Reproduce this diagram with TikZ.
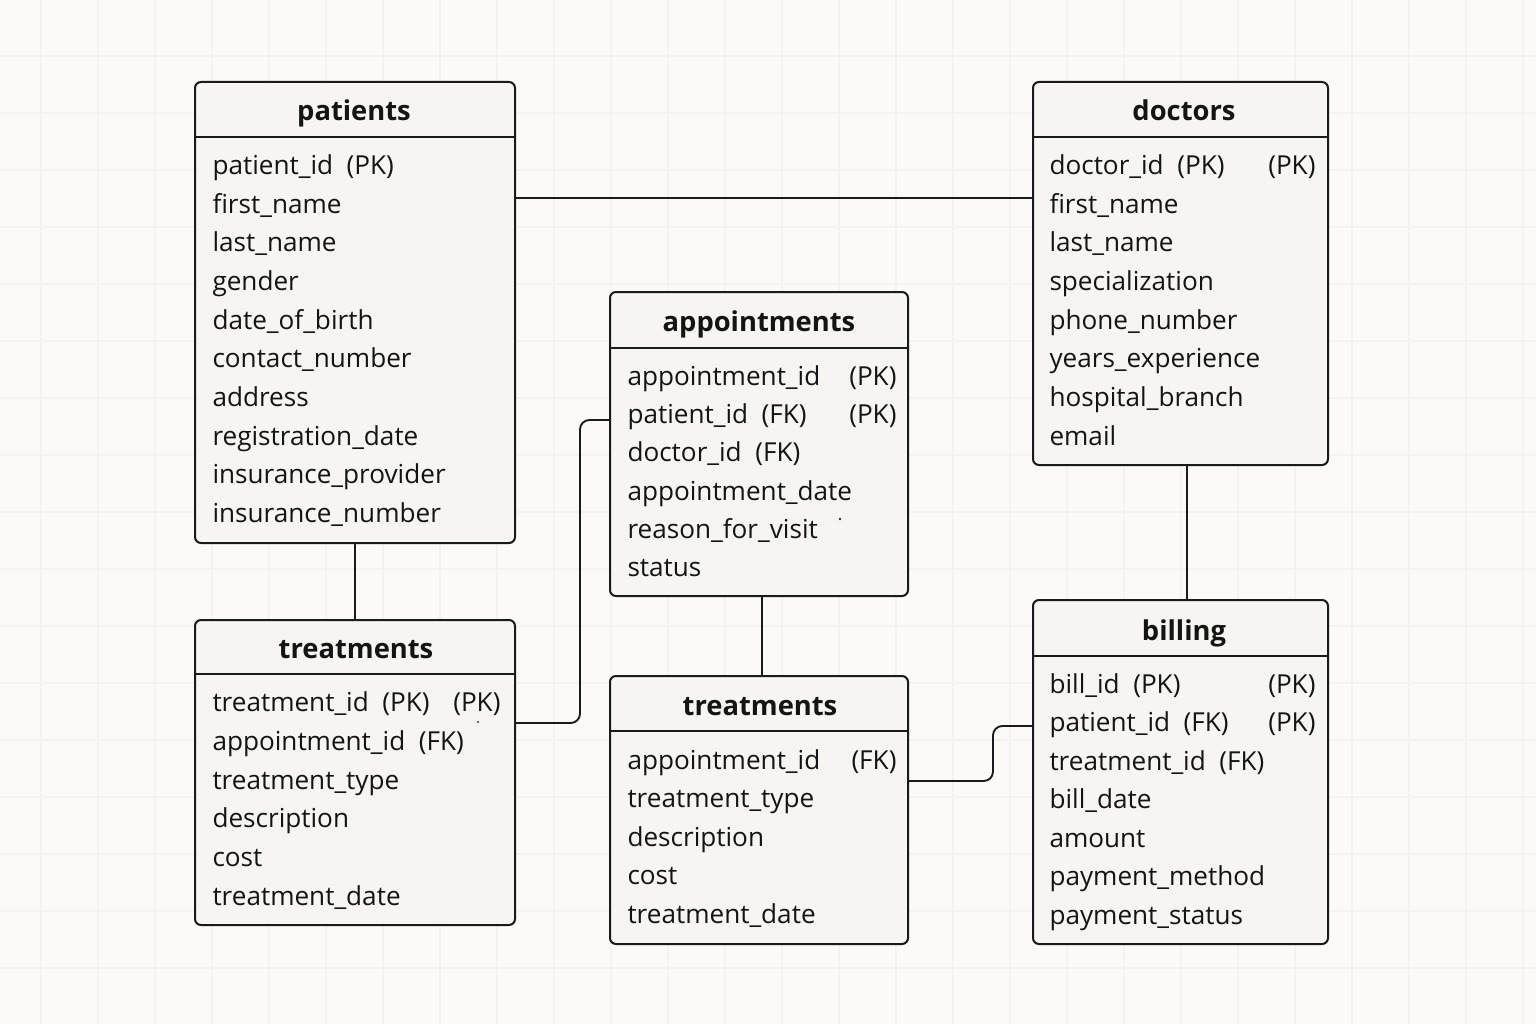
\documentclass[tikz,border=0pt]{standalone}
\usepackage{fontspec}
\setmainfont{Open Sans}

\tikzset{every picture/.style={line width=0.75pt}}
\tikzset{
  entity/.style={draw={rgb, 255:red, 26; green, 26; blue, 26 }, line width=1.5pt, rounded corners=4.5pt, fill={rgb, 255:red, 246; green, 245; blue, 241 }, inner sep=0pt},
  divider/.style={draw={rgb, 255:red, 26; green, 26; blue, 26 }, line width=1.4pt},
  title/.style={anchor=base, inner sep=0pt, text={rgb, 255:red, 20; green, 20; blue, 20 }, font=\bfseries\fontsize{20.5}{24}\selectfont},
  field/.style={anchor=base west, inner sep=0pt, text={rgb, 255:red, 20; green, 20; blue, 20 }, font=\fontsize{19.6}{23}\selectfont},
  keytag/.style={field, anchor=base east},
  link/.style={draw={rgb, 255:red, 26; green, 26; blue, 26 }, line width=1.4pt, rounded corners=7pt},
  gridline/.style={draw={rgb, 255:red, 245; green, 243; blue, 239 }, line width=0.8pt},
}

\begin{document}
\begin{tikzpicture}[x=0.75pt,y=0.75pt,yscale=-1,xscale=1]
	\useasboundingbox (0,0) rectangle (1536,1024);

	%Shape: Rectangle [background]
	\fill [fill={rgb, 255:red, 251; green, 250; blue, 246 }] (0,0) rectangle (1536,1024);
	%Grid
	\draw [gridline, step=57, shift={(41,56)}] (-41,-56) grid (1495,968);

	%Coordinates for the links
	\coordinate (pdLink) at (0,198);
	\coordinate (dbLink) at (1187,0);
	\coordinate (atLink) at (762,0);
	\coordinate (taBendLow) at (580,723);
	\coordinate (taBendHigh) at (580,420);
	\coordinate (tbBendLow) at (993,781);
	\coordinate (tbBendHigh) at (993,726);

	%Shape: Rectangle [patients]
	\node [entity, minimum width=240pt, minimum height=345.75pt] (patients) at (355,312.5) {};
	%Shape: Rectangle [doctors]
	\node [entity, minimum width=221.25pt, minimum height=287.25pt] (doctors) at (1180.5,273.5) {};
	%Shape: Rectangle [appointments]
	\node [entity, minimum width=223.5pt, minimum height=228pt] (appts) at (759,444) {};
	%Shape: Rectangle [treatments, left]
	\node [entity, minimum width=240pt, minimum height=228.75pt] (treatL) at (355,772.5) {};
	%Shape: Rectangle [treatments, middle]
	\node [entity, minimum width=223.5pt, minimum height=201pt] (treatM) at (759,810) {};
	%Shape: Rectangle [billing]
	\node [entity, minimum width=221.25pt, minimum height=258pt] (billing) at (1180.5,772) {};

	%Straight Lines [patients - doctors]
	\draw [link] (patients.east |- pdLink) -- (doctors.west |- pdLink) ;
	%Straight Lines [patients - treatments]
	\draw [link] (patients.south) -- (treatL.north) ;
	%Straight Lines [doctors - billing]
	\draw [link] (doctors.south -| dbLink) -- (billing.north -| dbLink) ;
	%Straight Lines [appointments - treatments]
	\draw [link] (appts.south -| atLink) -- (treatM.north -| atLink) ;
	%Straight Lines [treatments - appointments]
	\draw [link] (treatL.east |- taBendLow) -- (taBendLow) -- (taBendHigh) -- (appts.west |- taBendHigh) ;
	%Straight Lines [treatments - billing]
	\draw [link] (treatM.east |- tbBendLow) -- (tbBendLow) -- (tbBendHigh) -- (billing.west |- tbBendHigh) ;

	%Header dividers
	\draw [divider] (patients.north west) ++(0,56) -- ++(320,0) ;
	\draw [divider] (doctors.north west) ++(0,56) -- ++(295,0) ;
	\draw [divider] (appts.north west) ++(0,57) -- ++(298,0) ;
	\draw [divider] (treatL.north west) ++(0,55) -- ++(320,0) ;
	\draw [divider] (treatM.north west) ++(0,56) -- ++(298,0) ;
	\draw [divider] (billing.north west) ++(0,57) -- ++(295,0) ;

	% Text Node [patients]
	\node [title] (patientsTitle) at (354,121) {patients};
	\node [field] (pat1) at (212,174) {patient\_id~~(PK)};
	\node [field] (pat2) at (212,213) {first\_name};
	\node [field] (pat3) at (212,251) {last\_name};
	\node [field] (pat4) at (212,290) {gender};
	\node [field] (pat5) at (212,329) {date\_of\_birth};
	\node [field] (pat6) at (212,367) {contact\_number};
	\node [field] (pat7) at (212,406) {address};
	\node [field] (pat8) at (212,445) {registration\_date};
	\node [field] (pat9) at (212,483) {insurance\_provider};
	\node [field] (pat10) at (212,522) {insurance\_number};

	% Text Node [doctors]
	\node [title] (doctorsTitle) at (1184,121) {doctors};
	\node [field] (doc1) at (1049,174) {doctor\_id~~(PK)};
	\node [keytag] (doc1Key) at (1316,174) {(PK)};
	\node [field] (doc2) at (1049,213) {first\_name};
	\node [field] (doc3) at (1049,251) {last\_name};
	\node [field] (doc4) at (1049,290) {specialization};
	\node [field] (doc5) at (1049,329) {phone\_number};
	\node [field] (doc6) at (1049,367) {years\_experience};
	\node [field] (doc7) at (1049,406) {hospital\_branch};
	\node [field] (doc8) at (1049,445) {email};

	% Text Node [appointments]
	\node [title] (apptsTitle) at (759,331) {appointments};
	\node [field] (app1) at (627,385) {appointment\_id};
	\node [keytag] (app1Key) at (897,385) {(PK)};
	\node [field] (app2) at (627,423) {patient\_id~~(FK)};
	\node [keytag] (app2Key) at (897,423) {(PK)};
	\node [field] (app3) at (627,461) {doctor\_id~~(FK)};
	\node [field] (app4) at (627,500) {appointment\_date};
	\node [field] (app5) at (627,538) {reason\_for\_visit};
	\node [field] (app6) at (627,576) {status};
	\fill [fill={rgb, 255:red, 40; green, 40; blue, 40 }] (840,519) circle (1.3) ;

	% Text Node [treatments, left]
	\node [title] (treatLTitle) at (356,658) {treatments};
	\node [field] (trl1) at (212,711) {treatment\_id~~(PK)};
	\node [keytag] (trl1Key) at (501,711) {(PK)};
	\node [field] (trl2) at (212,750) {appointment\_id~~(FK)};
	\node [field] (trl3) at (212,789) {treatment\_type};
	\node [field] (trl4) at (212,827) {description};
	\node [field] (trl5) at (212,866) {cost};
	\node [field] (trl6) at (212,905) {treatment\_date};
	\fill [fill={rgb, 255:red, 60; green, 60; blue, 60 }] (478,722) circle (1.1) ;

	% Text Node [treatments, middle]
	\node [title] (treatMTitle) at (760,715) {treatments};
	\node [field] (trm1) at (627,769) {appointment\_id};
	\node [keytag] (trm1Key) at (897,769) {(FK)};
	\node [field] (trm2) at (627,807) {treatment\_type};
	\node [field] (trm3) at (627,846) {description};
	\node [field] (trm4) at (627,884) {cost};
	\node [field] (trm5) at (627,923) {treatment\_date};

	% Text Node [billing]
	\node [title] (billingTitle) at (1184,640) {billing};
	\node [field] (bil1) at (1049,693) {bill\_id~~(PK)};
	\node [keytag] (bil1Key) at (1316,693) {(PK)};
	\node [field] (bil2) at (1049,731) {patient\_id~~(FK)};
	\node [keytag] (bil2Key) at (1316,731) {(PK)};
	\node [field] (bil3) at (1049,770) {treatment\_id~~(FK)};
	\node [field] (bil4) at (1049,808) {bill\_date};
	\node [field] (bil5) at (1049,847) {amount};
	\node [field] (bil6) at (1049,885) {payment\_method};
	\node [field] (bil7) at (1049,924) {payment\_status};

\end{tikzpicture}
\end{document}
